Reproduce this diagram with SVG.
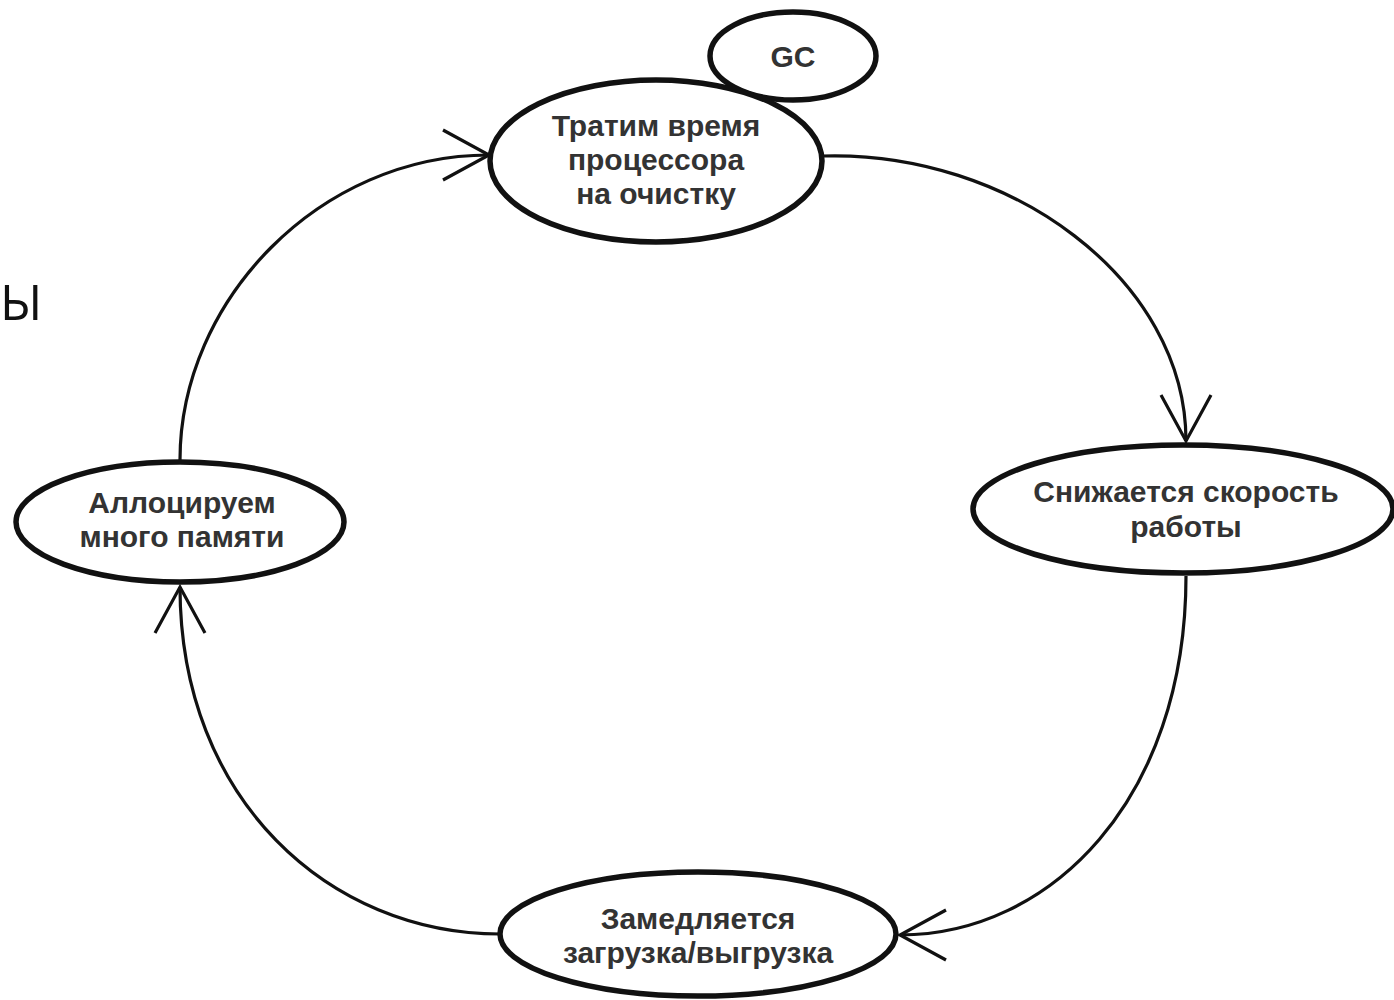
<svg xmlns="http://www.w3.org/2000/svg" width="1394" height="1000" viewBox="0 0 1394 1000">
  <style>
    .node ellipse { fill: #ffffff; stroke: #111111; stroke-width: 5.5; }
    .node text { font-family: "Liberation Sans", Arial, sans-serif; font-weight: bold; font-size: 30px; fill: #333333; text-anchor: middle; }
    .edge { fill: none; stroke: #111111; stroke-width: 3.2; marker-end: url(#open-arrow); }
    .title { font-family: "Open Sans", "Noto Sans", sans-serif; font-size: 50px; fill: #111111; }
  </style>
  <defs>
    <marker id="open-arrow" markerUnits="userSpaceOnUse" markerWidth="60" markerHeight="60" viewBox="-50 -30 60 60" refX="0" refY="0" orient="auto" overflow="visible">
      <path d="M-46,-25 L0,0 L-46,25" fill="none" stroke="#111111" stroke-width="3.2"/>
    </marker>
  </defs>

  <rect width="1394" height="1000" fill="#ffffff"/>

  <!-- heading letter at the left edge -->
  <text class="title" x="0" y="320">Ы</text>

  <!-- cycle connectors -->
  <g id="connectors">
    <path class="edge" d="M822,156 C1010,150 1186,280 1186,441"/>
    <path class="edge" d="M1186,576 C1186,800 1050,935 900,935"/>
    <path class="edge" d="M500,934 C330,934 180,800 180,587"/>
    <path class="edge" d="M180,460 C180,300 320,155 489,155"/>
  </g>

  <g id="node-gc" class="node">
    <ellipse cx="793" cy="56" rx="83" ry="44"/>
    <text x="793" y="67">GC</text>
  </g>

  <g id="node-cpu" class="node">
    <ellipse cx="656" cy="161" rx="166" ry="81"/>
    <text x="656" y="136">Тратим время</text>
    <text x="656" y="170">процессора</text>
    <text x="656" y="204">на очистку</text>
  </g>

  <g id="node-speed" class="node">
    <ellipse cx="1183" cy="509" rx="210" ry="64"/>
    <text x="1186" y="502">Снижается скорость</text>
    <text x="1186" y="537">работы</text>
  </g>

  <g id="node-io" class="node">
    <ellipse cx="698" cy="934" rx="198" ry="62"/>
    <text x="698" y="929">Замедляется</text>
    <text x="698" y="963">загрузка/выгрузка</text>
  </g>

  <g id="node-alloc" class="node">
    <ellipse cx="180" cy="522" rx="164" ry="60"/>
    <text x="182" y="513">Аллоцируем</text>
    <text x="182" y="547">много памяти</text>
  </g>
</svg>
